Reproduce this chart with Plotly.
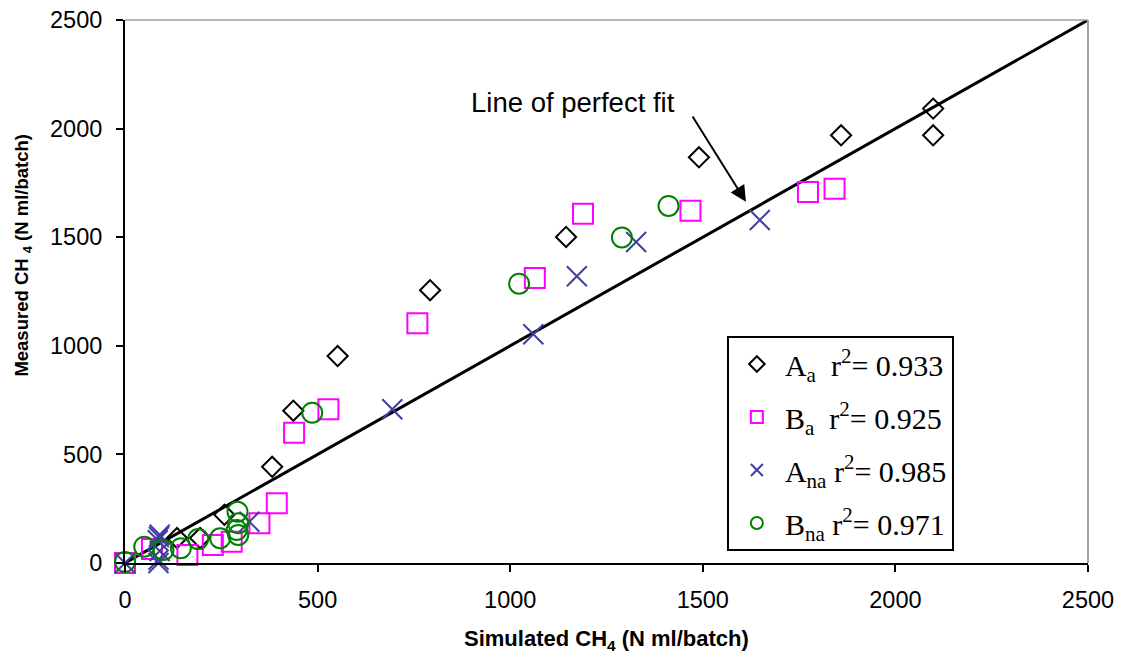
import plotly.graph_objects as go

# ---- data ----
Aa_sim = [135, 195, 258, 382, 437, 552, 792, 1145, 1490, 1859, 2098, 2098]
Aa_meas = [115, 115, 222, 443, 701, 953, 1256, 1501, 1868, 1969, 2092, 1969]

Ba_sim = [0, 70, 162, 228, 277, 349, 394, 439, 528, 759, 1064, 1189, 1468, 1773, 1842]
Ba_meas = [0, 65, 37, 83, 98, 183, 275, 600, 708, 1104, 1312, 1608, 1622, 1708, 1723]

Ana_sim = [0, 87, 87, 90, 85, 88, 90, 323, 694, 1060, 1173, 1327, 1648]
Ana_meas = [0, 0, 15, 55, 105, 120, 130, 190, 708, 1053, 1320, 1478, 1579]

Bna_sim = [0, 50, 100, 145, 190, 247, 290, 294, 294, 292, 486, 1023, 1290, 1411]
Bna_meas = [5, 75, 60, 68, 110, 114, 152, 129, 183, 236, 692, 1286, 1499, 1644]

perfect_fit = [0, 2500]
tick_vals = [0, 500, 1000, 1500, 2000, 2500]
tick_text = ["0", "500", "1000", "1500", "2000", "2500"]

legend_names = [
    "A<sub>a</sub>  r<sup>2</sup>= 0.933",
    "B<sub>a</sub>  r<sup>2</sup>= 0.925",
    "A<sub>na</sub> r<sup>2</sup>= 0.985",
    "B<sub>na</sub> r<sup>2</sup>= 0.971",
]

fig = go.Figure()

fig.add_trace(go.Scatter(x=perfect_fit, y=perfect_fit, mode="lines",
                         line=dict(color="black", width=3), showlegend=False,
                         hoverinfo="skip"))

fig.add_trace(go.Scatter(x=Aa_sim, y=Aa_meas, mode="markers", name=legend_names[0],
                         legendgroup="a", cliponaxis=False,
                         marker=dict(symbol="diamond-open", size=15.5, color="black",
                                     line=dict(width=2, color="black"))))
fig.add_trace(go.Scatter(x=Ba_sim, y=Ba_meas, mode="markers", name=legend_names[1],
                         legendgroup="b", cliponaxis=False,
                         marker=dict(symbol="square-open", size=20, color="#FF00FF",
                                     line=dict(width=2, color="#FF00FF"))))
fig.add_trace(go.Scatter(x=Ana_sim, y=Ana_meas, mode="markers", name=legend_names[2],
                         legendgroup="c", cliponaxis=False,
                         marker=dict(symbol="x-thin-open", size=20, color="#3F3FA0",
                                     line=dict(width=2, color="#3F3FA0"))))
fig.add_trace(go.Scatter(x=Bna_sim, y=Bna_meas, mode="markers", name=legend_names[3],
                         legendgroup="d", cliponaxis=False,
                         marker=dict(symbol="circle-open", size=20, color="#008000",
                                     line=dict(width=2, color="#008000"))))

axis_common = dict(
    range=[0, 2500], tickmode="array", tickvals=tick_vals, ticktext=tick_text,
    showgrid=False, zeroline=False, showline=True, linecolor="black", linewidth=2,
    ticks="outside", ticklen=7, tickwidth=1.5, tickcolor="black", automargin=False,
    tickfont=dict(family="Liberation Sans, Arial", size=23.5, color="black"),
)
fig.update_xaxes(**axis_common, ticklabelstandoff=8)
fig.update_yaxes(**axis_common, ticklabelstandoff=9)

fig.update_layout(
    width=1121, height=653,
    margin=dict(l=125, r=33, t=20, b=90, autoexpand=False),
    plot_bgcolor="white", paper_bgcolor="white",
    font=dict(family="Liberation Sans, Arial", color="black"),
    legend=dict(x=0.625, y=0.418, xanchor="left", yanchor="top",
                bgcolor="white", bordercolor="black", borderwidth=2,
                font=dict(family="Liberation Serif, Times New Roman", size=30, color="black"),
                tracegroupgap=11, itemsizing="constant", itemwidth=46),
    shapes=[
        dict(type="line", xref="paper", yref="paper", x0=0, x1=1, y0=1, y1=1,
             line=dict(color="#A0A0A0", width=1.5)),
        dict(type="line", xref="paper", yref="paper", x0=1, x1=1, y0=0, y1=1,
             line=dict(color="#A0A0A0", width=2)),
    ],
    annotations=[
        dict(text="<b>Measured CH <sub>4</sub> (N ml/batch)</b>", xref="paper", yref="paper",
             x=-0.1054, y=0.567, xanchor="center", yanchor="middle", textangle=-90,
             showarrow=False, font=dict(family="Liberation Sans, Arial", size=18.5, color="black")),
        dict(text="<b>Simulated CH<sub>4</sub> (N ml/batch)</b>", xref="paper", yref="paper",
             x=0.5, y=-0.142, xanchor="center", yanchor="middle", showarrow=False,
             font=dict(family="Liberation Sans, Arial", size=22, color="black")),
        dict(text="Line of perfect fit", xref="x", yref="y", x=1163, y=2118,
             xanchor="center", yanchor="middle", showarrow=False,
             font=dict(family="Liberation Sans, Arial", size=27.5, color="black")),
        dict(text="", xref="x", yref="y", x=1612, y=1663, axref="x", ayref="y",
             ax=1471, ay=2063, showarrow=True, arrowhead=2, arrowsize=1.6,
             arrowwidth=2, arrowcolor="black", standoff=0),
    ],
)

fig.write_html("out.html", config={"displayModeBar": False},
               post_script="document.body.style.margin='0';document.body.style.padding='0';")
